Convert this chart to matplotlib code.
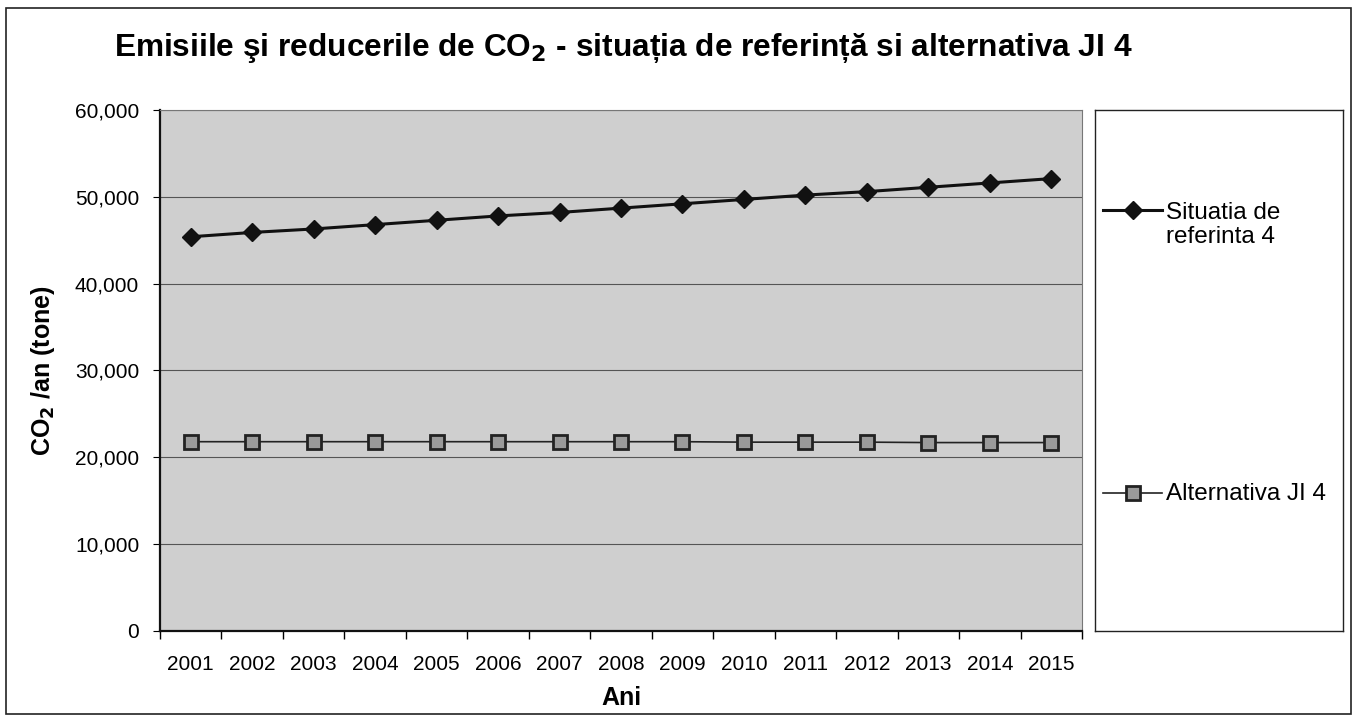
import matplotlib
matplotlib.use("Agg")
import matplotlib.pyplot as plt
from matplotlib.patches import Rectangle
from matplotlib.lines import Line2D
import numpy as np

plt.rcParams['font.family'] = ['Liberation Sans', 'DejaVu Sans']

years = ['2001', '2002', '2003', '2004', '2005', '2006', '2007', '2008',
         '2009', '2010', '2011', '2012', '2013', '2014', '2015']
referinta = [45400, 45900, 46300, 46800, 47300, 47800, 48200, 48700,
             49200, 49700, 50200, 50600, 51100, 51600, 52100]
alternativa = [21800, 21800, 21800, 21800, 21800, 21800, 21800, 21800,
               21800, 21750, 21750, 21750, 21700, 21700, 21700]
yticks = [0, 10000, 20000, 30000, 40000, 50000, 60000]

W, H = 1357, 718
fig = plt.figure(figsize=(W / 100, H / 100), dpi=100)

def fx(px):
    return px / W

def fy(py):
    return 1 - py / H

# outer border
fig.patches.append(Rectangle((fx(6), fy(714)), fx(1351) - fx(6), fy(8) - fy(714),
                             transform=fig.transFigure, fill=False,
                             edgecolor='#222222', linewidth=1.2))

ax = fig.add_axes([fx(160), fy(631), fx(1082) - fx(160), fy(110) - fy(631)])
ax.set_facecolor('#cfcfcf')
x = np.arange(len(years))
ax.set_xlim(-0.5, len(years) - 0.5)
ax.set_ylim(0, 60000)
ax.set_yticks(yticks)
ax.set_yticklabels([f"{v:,}" for v in yticks], fontsize=15)
ax.set_xticks(x)
ax.set_xticklabels(years, fontsize=15)
ax.set_xticks(np.arange(-0.5, len(years), 1), minor=True)
ax.tick_params(axis='x', which='major', length=0, pad=17)
ax.tick_params(axis='x', which='minor', length=6, width=1, direction='out')
ax.tick_params(axis='y', length=5, width=0.8, direction='out', pad=10)
ax.grid(axis='y', color='#555555', linewidth=0.8)
ax.set_axisbelow(True)
for s in ['top', 'right']:
    ax.spines[s].set_color('#777777')
    ax.spines[s].set_linewidth(0.8)
for s in ['left', 'bottom']:
    ax.spines[s].set_color('#111111')
    ax.spines[s].set_linewidth(1.6)

ax.plot(x, referinta, color='#111111', linewidth=2.2, marker='D',
        markersize=9, markerfacecolor='#111111', markeredgecolor='#111111')
ax.plot(x, alternativa, color='#222222', linewidth=1.2, marker='s',
        markersize=10, markerfacecolor='#9a9a9a', markeredgecolor='#222222',
        markeredgewidth=2)

ax.set_xlabel('Ani', fontsize=18, fontweight='bold', labelpad=9)
ax.set_ylabel('CO$_\\mathbf{2}$ /an (tone)', fontsize=18, fontweight='bold', labelpad=13)

fig.text(fx(623), fy(48), 'Emisiile şi reducerile de CO$_\\mathbf{2}$ - situația de referință si alternativa JI 4',
         fontsize=22.8, fontweight='bold', ha='center', va='center')

# legend box
lax = fig.add_axes([fx(1095), fy(631), fx(1343) - fx(1095), fy(110) - fy(631)])
lax.set_xlim(1095, 1343)
lax.set_ylim(631, 110)
lax.set_xticks([])
lax.set_yticks([])
for s in lax.spines.values():
    s.set_color('#222222')
    s.set_linewidth(1)
lax.add_line(Line2D([1103, 1162], [210, 210], color='#111111', linewidth=2.2))
lax.plot([1133], [210], marker='D', markersize=9, color='#111111')
lax.add_line(Line2D([1103, 1162], [493, 493], color='#222222', linewidth=1.2))
lax.plot([1133], [493], marker='s', markersize=10, markerfacecolor='#9a9a9a',
         markeredgecolor='#222222', markeredgewidth=2)
lax.text(1166, 225, 'Situatia de\nreferinta 4', fontsize=17.5, va='center', ha='left',
         linespacing=1.1)
lax.text(1166, 494, 'Alternativa JI 4', fontsize=17.5, va='center', ha='left')

fig.savefig('out.png', dpi=100)
